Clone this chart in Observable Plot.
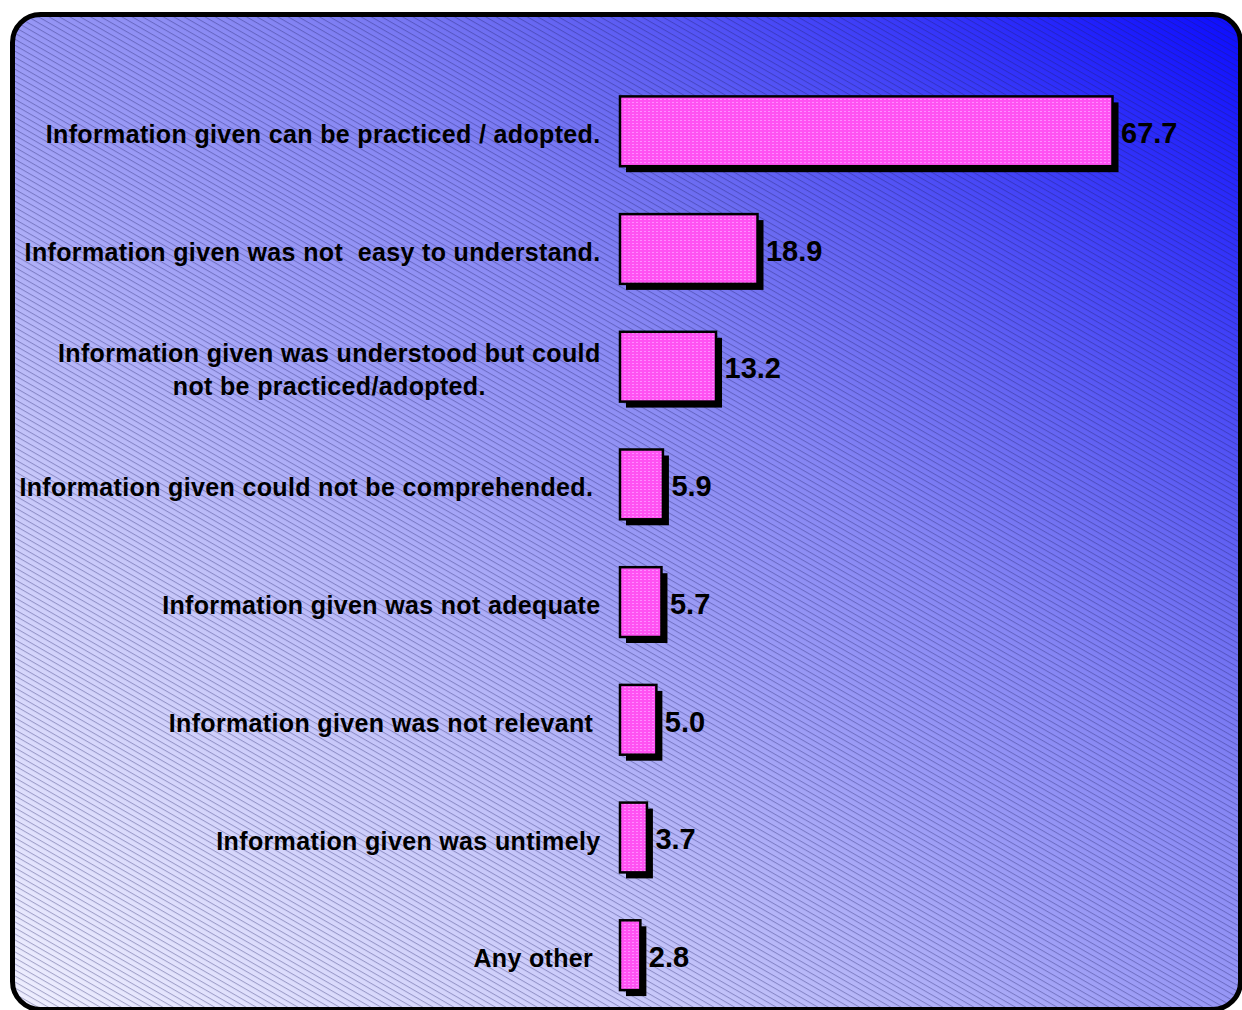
<!DOCTYPE html>
<html>
<head>
<meta charset="utf-8">
<script src="https://cdn.jsdelivr.net/npm/d3@7"></script>
<script src="https://cdn.jsdelivr.net/npm/@observablehq/plot@0.6"></script>
<style>
  html, body { margin: 0; padding: 0; background: #fff; overflow: hidden; }
  svg text { white-space: pre; }
</style>
</head>
<body>
<div id="chart"></div>
<script>
const categories = [
  "Information given can be practiced / adopted.",
  "Information given was not  easy to understand.",
  "Information given was understood but could\nnot be practiced/adopted.",
  "Information given could not be comprehended. ",
  "Information given was not adequate",
  "Information given was not relevant ",
  "Information given was untimely",
  "Any other "
];
const values = [67.7, 18.9, 13.2, 5.9, 5.7, 5.0, 3.7, 2.8];

const data = categories.map((c, i) => ({cat: c, value: values[i]}));

const chart = Plot.plot({
  width: 1242,
  height: 1010,
  marginLeft: 620,
  marginRight: 0,
  marginTop: 0,
  marginBottom: 0,
  style: {background: "white", fontFamily: "'Liberation Sans', Arial, sans-serif", color: "black"},
  x: {domain: [0, 85.5], axis: null},
  y: {domain: categories, range: [48.5, 1038], padding: 0.407, round: false, axis: null},
  marks: [
    Plot.barX(data, {x: "value", y: "cat", fill: "black", dx: 6, dy: 6}),
    Plot.barX(data, {x: "value", y: "cat", fill: "url(#pinktex)", stroke: "black", strokeWidth: 2.5}),
    Plot.text(data, {x: "value", y: "cat", text: d => d.value.toFixed(1), dx: 8, dy: 2,
      textAnchor: "start", fontSize: 29, fontWeight: "bold", fill: "black"}),
    Plot.text(data, {x: 0, y: "cat", text: "cat", dx: -20, dy: 1, textAnchor: "end",
      fontSize: 25, fontWeight: "bold", fill: "black", lineHeight: 1.32})
  ]
});

const svg = d3.select(chart);
const textGroups = svg.selectAll("g[aria-label='text']").nodes();
d3.select(textGroups[1]).selectAll("text").style("letter-spacing", "0.35px");

const bg = svg.insert("g", ":first-child");
const defs = svg.insert("defs", ":first-child");

const grad = defs.append("linearGradient").attr("id", "bggrad")
  .attr("x1", 0).attr("y1", 1).attr("x2", 1).attr("y2", 0);
[[0, "#efeffe"], [0.27, "#c8c8fa"], [0.47, "#9c9cf6"], [0.6, "#8686f4"], [0.7, "#6a6af2"], [1, "#0c0cff"]]
  .forEach(([o, c]) => grad.append("stop").attr("offset", o).attr("stop-color", c));

const hatch = defs.append("pattern").attr("id", "hatch")
  .attr("patternUnits", "userSpaceOnUse").attr("width", 20).attr("height", 5.2)
  .attr("patternTransform", "rotate(30)");
hatch.append("line").attr("x1", 0).attr("x2", 20).attr("y1", 0.5).attr("y2", 0.5)
  .attr("stroke", "rgba(30,30,100,0.34)").attr("stroke-width", 1);

const pink = defs.append("pattern").attr("id", "pinktex")
  .attr("patternUnits", "userSpaceOnUse").attr("width", 4).attr("height", 3);
pink.append("rect").attr("width", 4).attr("height", 3).attr("fill", "#ff52f2");
pink.append("rect").attr("width", 2).attr("height", 1).attr("fill", "#ff8cff");

const frame = {x: 12.5, y: 14.5, w: 1228, h: 995, rx: 28};
bg.append("rect").attr("x", frame.x).attr("y", frame.y).attr("width", frame.w).attr("height", frame.h)
  .attr("rx", frame.rx).attr("fill", "url(#bggrad)");
bg.append("rect").attr("x", frame.x).attr("y", frame.y).attr("width", frame.w).attr("height", frame.h)
  .attr("rx", frame.rx).attr("fill", "url(#hatch)");
bg.append("rect").attr("x", frame.x).attr("y", frame.y).attr("width", frame.w).attr("height", frame.h)
  .attr("rx", frame.rx).attr("fill", "none").attr("stroke", "black").attr("stroke-width", 5);

document.getElementById("chart").appendChild(chart);

// Center multi-line category labels within their block (right edge kept)
d3.select(textGroups[1]).selectAll("text").each(function() {
  const tspans = this.querySelectorAll("tspan");
  if (tspans.length > 1) {
    const w = this.getBBox().width;
    d3.select(this).attr("text-anchor", "middle");
    tspans.forEach(t => t.setAttribute("x", -w / 2));
  }
});
</script>
</body>
</html>
